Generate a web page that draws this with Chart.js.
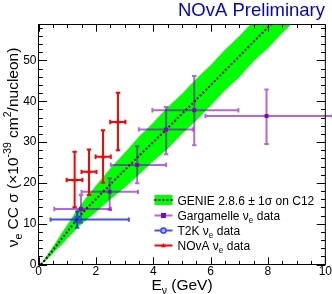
<!DOCTYPE html>
<html><head><meta charset="utf-8">
<script src="https://cdn.jsdelivr.net/npm/chart.js@4.4.0/dist/chart.umd.min.js"></script>
<style>html,body{margin:0;padding:0;background:#fff;}#wrap{width:332px;height:294px;}</style>
</head><body><div id="wrap"><canvas id="c" width="332" height="294"></canvas></div>
<script>
// ---- data ----
const xTicks = [0, 2, 4, 6, 8, 10];
const yTicks = [0, 10, 20, 30, 40, 50];

const genieE       = [0.08, 0.2, 0.4, 0.6, 0.8, 1.0, 1.2, 1.4, 1.7, 2.0, 2.5, 3.0, 3.5, 4.0, 4.5, 5.0, 5.5, 6.0, 6.5, 7.0, 7.5, 8.0, 8.5, 9.0];
const genieCentral = [0, 0.9, 2.6, 4.4, 6.2, 8.0, 9.8, 11.6, 13.9, 16.0, 19.6, 23.1, 26.6, 30.0, 33.4, 36.9, 40.4, 43.9, 47.5, 51.0, 54.6, 58.1, 61.6, 65.1];
const genieLow     = [0, 0.6, 1.9, 3.4, 4.8, 6.3, 7.8, 9.3, 11.1, 12.8, 15.9, 18.8, 22.0, 25.3, 28.3, 32.0, 35.3, 38.9, 42.6, 45.9, 49.8, 53.0, 56.7, 60.1];
const genieHigh    = [0, 1.2, 3.3, 5.4, 7.6, 9.7, 11.8, 13.9, 16.7, 19.3, 23.5, 27.3, 31.3, 34.7, 38.5, 41.8, 45.5, 48.8, 52.6, 55.9, 59.7, 63.1, 66.6, 70.1];

const gargE         = [1.48, 2.48, 3.44, 4.45, 5.43, 7.95];
const gargELow      = [0.55, 1.50, 2.52, 3.50, 3.97, 5.82];
const gargEHigh     = [2.52, 3.47, 4.45, 5.38, 6.97, 10.25];
const gargSigma     = [13.6, 17.8, 24.4, 33.1, 37.8, 36.4];
const gargSigmaLow  = [10.2, 13.4, 19.9, 27.0, 29.2, 29.5];
const gargSigmaHigh = [17.0, 21.1, 29.0, 38.6, 46.2, 42.9];

const t2kE         = [1.35];
const t2kELow      = [0.42];
const t2kEHigh     = [3.15];
const t2kSigma     = [11.0];
const t2kSigmaLow  = [9.0];
const t2kSigmaHigh = [13.0];

const novaE         = [1.26, 1.76, 2.25, 2.77];
const novaELow      = [0.98, 1.50, 1.99, 2.50];
const novaEHigh     = [1.53, 2.02, 2.52, 3.03];
const novaSigma     = [20.7, 22.7, 26.4, 34.9];
const novaSigmaLow  = [14.0, 17.0, 20.0, 28.0];
const novaSigmaHigh = [27.6, 28.2, 32.9, 42.1];

// ---- styles ----
const FONT = '"Liberation Sans", Arial, Helvetica, sans-serif';
const GREEN = '#00ff00';
const PURPLE_BAR = 'rgba(128,0,204,0.6)';
const PURPLE_MK = '#8800cc';
const BLUE_BAR = 'rgba(0,0,255,0.7)';
const BLUE_MK = '#3344ff';
const RED = '#ff0000';

const pts = (xs, ys) => xs.map((x, i) => ({x, y: ys[i]}));

const errorSets = {
  3: {E: gargE, lo: gargELow, hi: gargEHigh, s: gargSigma, slo: gargSigmaLow, shi: gargSigmaHigh, color: PURPLE_BAR, w: 2},
  4: {E: t2kE, lo: t2kELow, hi: t2kEHigh, s: t2kSigma, slo: t2kSigmaLow, shi: t2kSigmaHigh, color: BLUE_BAR, w: 2},
  5: {E: novaE, lo: novaELow, hi: novaEHigh, s: novaSigma, slo: novaSigmaLow, shi: novaSigmaHigh, color: RED, w: 2}
};

function fontOf(seg, base) {
  const sz = (seg.sub || seg.sup) ? base * 0.68 : base;
  return sz.toFixed(2) + 'px ' + FONT;
}
function richWidth(ctx, segs, base) {
  let w = 0;
  for (const s of segs) { ctx.font = fontOf(s, base); w += ctx.measureText(s.t).width; }
  return w;
}
function drawRich(ctx, segs, x, y, base, align) {
  const w = richWidth(ctx, segs, base);
  let cx = align === 'center' ? x - w / 2 : (align === 'right' ? x - w : x);
  ctx.textBaseline = 'alphabetic';
  ctx.textAlign = 'left';
  for (const s of segs) {
    ctx.font = fontOf(s, base);
    const dy = s.sub ? base * 0.28 : (s.sup ? -base * 0.42 : 0);
    ctx.fillText(s.t, cx, y + dy);
    cx += ctx.measureText(s.t).width;
  }
}

const errPlugin = {
  id: 'errbars',
  beforeDatasetDraw(chart, args) {
    const e = errorSets[args.index];
    if (!e) return;
    const ctx = chart.ctx, xs = chart.scales.x, ys = chart.scales.y;
    ctx.save();
    ctx.strokeStyle = e.color;
    ctx.lineWidth = e.w;
    const cap = 2.2;
    for (let i = 0; i < e.E.length; i++) {
      const px = xs.getPixelForValue(e.E[i]);
      const py = ys.getPixelForValue(e.s[i]);
      const x0 = xs.getPixelForValue(e.lo[i]), x1 = xs.getPixelForValue(e.hi[i]);
      const y0 = ys.getPixelForValue(e.slo[i]), y1 = ys.getPixelForValue(e.shi[i]);
      ctx.beginPath();
      ctx.moveTo(x0, py); ctx.lineTo(x1, py);
      ctx.moveTo(px, y0); ctx.lineTo(px, y1);
      ctx.moveTo(x0, py - cap); ctx.lineTo(x0, py + cap);
      ctx.moveTo(x1, py - cap); ctx.lineTo(x1, py + cap);
      ctx.moveTo(px - cap, y0); ctx.lineTo(px + cap, y0);
      ctx.moveTo(px - cap, y1); ctx.lineTo(px + cap, y1);
      ctx.stroke();
    }
    ctx.restore();
  }
};

const framePlugin = {
  id: 'frame',
  afterDatasetsDraw(chart) {
    const ctx = chart.ctx, a = chart.chartArea, xs = chart.scales.x, ys = chart.scales.y;
    ctx.save();
    ctx.strokeStyle = '#000';
    ctx.lineWidth = 1;
    ctx.strokeRect(a.left, a.top, a.right - a.left, a.bottom - a.top);
    ctx.beginPath();
    const xLenMaj = 7.2, xLenMin = 3.6, yLenMaj = 8.6, yLenMin = 4.3;
    for (let v = 0; v <= 10.001; v += 0.5) {
      const px = Math.round(xs.getPixelForValue(v)) + 0.5;
      const L = (xTicks.some(t => Math.abs(t - v) < 1e-6)) ? xLenMaj : xLenMin;
      ctx.moveTo(px, a.bottom); ctx.lineTo(px, a.bottom - L);
      ctx.moveTo(px, a.top); ctx.lineTo(px, a.top + L);
    }
    for (let v = 0; v <= ys.max + 1e-6; v += 2) {
      const py = Math.round(ys.getPixelForValue(v)) + 0.5;
      const L = (yTicks.some(t => Math.abs(t - v) < 1e-6)) ? yLenMaj : yLenMin;
      ctx.moveTo(a.left, py); ctx.lineTo(a.left + L, py);
      ctx.moveTo(a.right, py); ctx.lineTo(a.right - L, py);
    }
    ctx.stroke();
    ctx.restore();
  },
  afterDraw(chart) {
    const ctx = chart.ctx;
    ctx.save();
    ctx.fillStyle = '#000';
    drawRich(ctx, [{t: 'E'}, {t: 'ν', sub: true}, {t: ' (GeV)'}], 182, 289.5, 15.5, 'center');
    ctx.save();
    ctx.translate(18, 147.5);
    ctx.rotate(-Math.PI / 2);
    drawRich(ctx, [{t: 'ν'}, {t: 'e', sub: true}, {t: ' CC σ (×10'}, {t: '-39', sup: true}, {t: ' cm'}, {t: '2', sup: true}, {t: '/nucleon)'}], 0, 0, 15.5, 'center');
    ctx.restore();
    ctx.fillStyle = '#0000dd';
    drawRich(ctx, [{t: 'NOvA Preliminary'}], 325, 16, 18.5, 'right');
    const LF = 12;
    const lx0 = 154.5, lx1 = 172.5, mx = 163.5, tx = 177.5;
    ctx.fillStyle = GREEN;
    ctx.fillRect(lx0, 195, lx1 - lx0, 10);
    ctx.strokeStyle = '#000'; ctx.lineWidth = 2; ctx.setLineDash([2, 2]);
    ctx.beginPath(); ctx.moveTo(lx0, 200); ctx.lineTo(lx1, 200); ctx.stroke();
    ctx.setLineDash([]);
    ctx.fillStyle = '#000';
    drawRich(ctx, [{t: 'GENIE 2.8.6 ± 1σ on C12'}], tx, 204.5, LF, 'left');
    let yy = 215.5;
    ctx.strokeStyle = PURPLE_BAR; ctx.lineWidth = 2;
    ctx.beginPath(); ctx.moveTo(lx0, yy); ctx.lineTo(lx1, yy); ctx.stroke();
    ctx.fillStyle = PURPLE_MK; ctx.fillRect(mx - 2.5, yy - 2.5, 5, 5);
    ctx.fillStyle = '#000';
    drawRich(ctx, [{t: 'Gargamelle ν'}, {t: 'e', sub: true}, {t: ' data'}], tx, 219.5, LF, 'left');
    yy = 230.5;
    ctx.strokeStyle = BLUE_BAR; ctx.lineWidth = 2;
    ctx.beginPath(); ctx.moveTo(lx0, yy); ctx.lineTo(lx1, yy); ctx.stroke();
    ctx.strokeStyle = BLUE_MK; ctx.lineWidth = 1.5; ctx.fillStyle = '#aab4ff';
    ctx.beginPath(); ctx.arc(mx, yy, 2.6, 0, Math.PI * 2); ctx.fill(); ctx.stroke();
    ctx.fillStyle = '#000';
    drawRich(ctx, [{t: 'T2K ν'}, {t: 'e', sub: true}, {t: ' data'}], tx, 234.5, LF, 'left');
    yy = 245.5;
    ctx.strokeStyle = RED; ctx.lineWidth = 2;
    ctx.beginPath(); ctx.moveTo(lx0, yy); ctx.lineTo(lx1, yy); ctx.stroke();
    ctx.fillStyle = RED;
    ctx.beginPath(); ctx.moveTo(mx, yy - 2.5); ctx.lineTo(mx + 2.6, yy + 1.8); ctx.lineTo(mx - 2.6, yy + 1.8); ctx.closePath(); ctx.fill();
    ctx.fillStyle = '#000';
    drawRich(ctx, [{t: 'NOvA ν'}, {t: 'e', sub: true}, {t: ' data'}], tx, 249.5, LF, 'left');
    ctx.restore();
  }
};

new Chart(document.getElementById('c'), {
  type: 'scatter',
  data: {
    datasets: [
      {order: 10, data: pts(genieE, genieHigh), showLine: true, pointRadius: 0, borderWidth: 0, borderColor: 'rgba(0,0,0,0)', backgroundColor: GREEN, fill: '+1'},
      {order: 9, data: pts(genieE, genieLow), showLine: true, pointRadius: 0, borderWidth: 0, borderColor: 'rgba(0,0,0,0)', fill: false},
      {order: 8, data: pts(genieE, genieCentral), showLine: true, pointRadius: 0, borderWidth: 2, borderColor: '#000', borderDash: [2, 2], fill: false},
      {order: 3, data: pts(gargE, gargSigma), pointStyle: 'rect', pointRadius: 2.8, backgroundColor: PURPLE_MK, borderColor: PURPLE_MK, borderWidth: 0},
      {order: 2, data: pts(t2kE, t2kSigma), pointStyle: 'circle', pointRadius: 3, backgroundColor: 'rgba(255,255,255,0)', borderColor: BLUE_MK, borderWidth: 1.5},
      {order: 1, data: pts(novaE, novaSigma), pointStyle: 'triangle', pointRadius: 2.8, backgroundColor: RED, borderColor: RED, borderWidth: 0}
    ]
  },
  options: {
    responsive: false,
    maintainAspectRatio: false,
    animation: false,
    devicePixelRatio: 1,
    layout: {padding: {top: 24.5, right: 5.5, left: 0, bottom: 0}},
    plugins: {legend: {display: false}, tooltip: {enabled: false}, title: {display: false}, filler: {propagate: false}},
    scales: {
      x: {
        type: 'linear', min: 0, max: 10,
        grid: {display: false, drawTicks: false}, border: {display: false},
        afterBuildTicks: s => { s.ticks = xTicks.map(v => ({value: v})); },
        afterFit: s => { s.height = 29.5; },
        ticks: {padding: 0, maxRotation: 0, autoSkip: false, color: '#000', font: {family: FONT, size: 12}}
      },
      y: {
        type: 'linear', min: 0, max: 58.8,
        grid: {display: false, drawTicks: false}, border: {display: false},
        afterBuildTicks: s => { s.ticks = yTicks.map(v => ({value: v})); },
        afterFit: s => { s.width = 38.5; },
        ticks: {padding: 2, autoSkip: false, color: '#000', font: {family: FONT, size: 12}}
      }
    }
  },
  plugins: [errPlugin, framePlugin]
});
</script>
</body></html>
